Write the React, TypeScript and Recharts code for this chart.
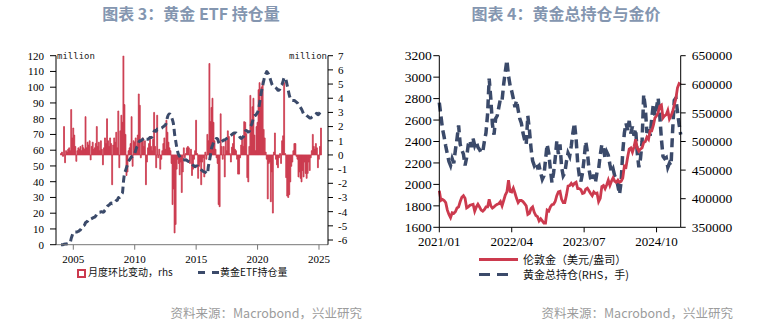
import React from "react";
import { ComposedChart, LineChart, Bar, Line, XAxis, YAxis } from "recharts";

// 图表3: monthly, index 0 = 2004/01
const etfChange = [
  0.1, 0.2, -0.1, 2.0, -0.55, 0.3, 0.2, 0.4, 0.5, 0.3, 3.2, 1.2,
  1.9, 1.4, 0.6, -0.45, 0.3, 0.5, 0.4, 0.6, 0.3, 0.7, 0.5, 0.4,
  2.7, 0.5, 0.9, 0.7, 1.0, -0.35, 0.6, 0.9, 0.4, 0.5, 0.8, 2.0,
  0.6, 0.9, 0.3, 1.0, 0.4, -0.7, 0.5, 1.2, 0.8, 2.55, 1.0, 0.6,
  1.2, 0.8, -2.1, 0.7, 1.2, 0.9, 1.6, 0.5, 3.1, -0.9, 1.7, 2.8,
  2.3, 7.0, 3.55, 1.45, -1.45, -1.2, 0.3, 0.5, 0.8, 2.7, -0.8, 1.0,
  0.9, 1.2, 0.6, 1.4, 4.3, 3.5, -0.2, 0.9, 1.2, 0.6, 1.0, -2.1,
  -0.5, 0.5, 0.8, 1.3, 0.6, 0.3, 1.1, 3.0, 0.6, -0.9, 2.8, -0.2,
  0.4, -1.0, -0.3, 0.3, 0.8, 1.2, 0.4, 2.45, 1.6, 0.9, 0.5, 0.3,
  -0.6, -3.5, -2.4, -5.5, -4.9, -1.0, -0.3, -0.6, -1.4, -0.5, -2.65, -1.2,
  0.5, -0.2, 0.1, 0.5, 0.6, 0.5, -0.6, 0.4, -1.45, -1.0, -0.3, 0.3,
  2.45, 0.1, -1.65, -0.8, -0.5, -2.1, -0.5, -0.2, -1.55, 0.2, -0.3, 1.45,
  1.0, 6.45, 2.35, 3.35, 4.0, 2.3, 1.0, 0.4, -0.2, -0.6, -3.5, -3.65,
  2.9, 0.6, -0.3, 0.6, -1.55, 1.0, 0.3, 1.7, 1.3, 0.1, -0.5, 0.55,
  0.8, 1.5, 0.4, 0.3, -0.3, -1.35, -1.35, -0.2, 0.7, 1.1, 0.6, 2.35,
  2.3, 1.5, -1.6, -1.9, 0.6, 4.2, 2.3, 3.4, 4.0, 1.4, 0.3, 2.0,
  2.3, 4.6, 5.1, 3.6, 4.8, 5.2, 1.8, 1.2, 0.2, -0.3, -3.1, -0.6,
  -0.5, -3.3, -1.2, -4.1, 0.2, 1.55, -0.3, -0.7, -0.9, -0.2, 0.1, -0.6,
  1.0, 1.35, 5.1, 0.1, -1.6, -2.9, -3.0, -2.8, -1.9, -0.8, -0.5, 0.3,
  0.8, 0.8, -0.1, -0.3, -1.55, -1.2, -1.65, -1.9, -1.1, -1.55, -0.5, -1.3,
  -1.65, -1.3, -0.5, -1.1, -0.2, 0.3, 1.45, 0.6, 0.4, 0.8, 0.5, -0.9,
  -0.3, 0.6, 1.9,
];

const etfHolding = [
  0, 0, 0, 0.3, 0.5, 0.5, 0.6, 0.8, 1, 1.5, 4, 6,
  7.5, 8, 8, 8, 8.2, 8.5, 9, 9.5, 10.5, 11.5, 12, 12.5,
  14, 14.5, 15, 16, 16.5, 16.3, 16.6, 17, 17.3, 17.6, 18.3, 19.5,
  20, 20.5, 20.6, 21, 21, 20.6, 21, 22, 22.6, 24, 24.8, 25.2,
  26, 26.5, 26, 26.3, 27, 27.3, 28, 28.2, 30, 30, 30.5, 32,
  33, 40, 45, 47, 49, 51, 53, 54, 55, 56, 56, 57,
  58, 60, 62, 63, 65, 66, 66, 66.5, 67, 67.5, 68, 67,
  67, 67, 67.5, 68, 68, 68.5, 70, 72, 72.5, 72, 73.5, 73.5,
  74, 74, 74, 74.5, 75, 75.5, 76, 78, 81, 82.5, 83, 82.5,
  81, 79, 76, 70, 66, 62, 59, 57, 56, 55, 54.5, 54,
  54, 53.8, 54, 53.5, 53, 52.8, 52.5, 52, 51, 50.5, 50, 49.5,
  50, 50, 49.5, 48.5, 48, 47.5, 47, 46.5, 46.2, 46, 45.5, 45,
  50, 53, 57, 61, 63, 65, 66, 67, 67.5, 67, 65, 64,
  65, 65.5, 66, 66.5, 66.5, 67, 67.5, 68, 68.5, 69, 69.5, 70,
  70.5, 71, 71, 71, 70.5, 70, 69, 68, 67.5, 68, 68.5, 70,
  72, 72.5, 72, 71.5, 72, 75, 76, 78, 81, 82, 82, 83,
  84, 86, 90, 94, 98, 101, 104, 107, 108.5, 110, 109, 108,
  106, 104, 102, 101, 100.5, 100, 99.5, 99, 98, 98, 99, 101,
  102, 104, 106, 106, 104, 101, 98, 95, 93, 92, 91.5, 91.5,
  91.5, 91, 90.5, 90, 89, 88, 87, 86, 84.5, 83, 82.5, 82.5,
  82, 81.5, 81, 80.5, 80.5, 81, 81.5, 82, 82.5, 83, 83.5, 82.5,
  83, 84, 85,
];

const etfYearTicks = [2005, 2010, 2015, 2020, 2025];
const leftTicks3 = [0, 10, 20, 30, 40, 50, 60, 70, 80, 90, 100, 110, 120];
const rightTicks3 = [-6, -5, -4, -3, -2, -1, 0, 1, 2, 3, 4, 5, 6, 7];

// 图表4: three readings per month from 2021/01
const goldPrice = [
  1940, 1850, 1860, 1850, 1830, 1760, 1720, 1690, 1735, 1730, 1745, 1780,
  1790, 1840, 1880, 1895, 1870, 1780, 1790, 1805, 1810, 1815, 1750, 1790,
  1815, 1790, 1760, 1750, 1765, 1790, 1790, 1860, 1800, 1780, 1790, 1805,
  1815, 1820, 1840, 1800, 1850, 1900, 1930, 2040, 1935, 1930, 1965, 1920,
  1870, 1830, 1850, 1850, 1840, 1820, 1800, 1720, 1730, 1775, 1790, 1740,
  1710, 1700, 1660, 1680, 1660, 1640, 1640, 1760, 1750, 1790, 1810, 1815,
  1840, 1895, 1930, 1935, 1860, 1830, 1830, 1900, 1985, 1990, 2010, 1990,
  2010, 2020, 1960, 1960, 1950, 1915, 1920, 1955, 1965, 1940, 1915, 1895,
  1930, 1915, 1920, 1840, 1870, 1980, 1990, 1960, 1995, 2040, 1990, 2030,
  2060, 2030, 2020, 2040, 2020, 2030, 2060, 2170, 2160, 2250, 2330, 2340,
  2300, 2350, 2420, 2340, 2310, 2330, 2340, 2390, 2400, 2440, 2420, 2500,
  2500, 2550, 2620, 2640, 2670, 2730, 2740, 2620, 2640, 2650, 2690, 2610,
  2640, 2680, 2740, 2800, 2900, 2940, 2930,
];

const goldHoldings = [
  568000, 545000, 522000, 508000, 492000, 478000, 465000, 458000, 470000, 462000, 485000, 505000,
  528000, 495000, 485000, 478000, 458000, 472000, 495000, 502000, 490000, 505000, 493000, 500000,
  490000, 486000, 480000, 482000, 500000, 515000, 548000, 610000, 575000, 530000, 512000, 540000,
  545000, 560000, 575000, 572000, 600000, 622000, 642000, 615000, 598000, 588000, 575000, 560000,
  572000, 555000, 540000, 532000, 515000, 503000, 495000, 545000, 520000, 488000, 466000, 458000,
  463000, 455000, 458000, 445000, 434000, 440000, 468000, 495000, 480000, 452000, 428000, 445000,
  470000, 500000, 478000, 495000, 455000, 440000, 445000, 465000, 480000, 474000, 492000, 515000,
  532000, 505000, 462000, 440000, 430000, 445000, 470000, 500000, 482000, 452000, 436000, 430000,
  442000, 428000, 446000, 452000, 476000, 495000, 490000, 470000, 482000, 476000, 460000, 446000,
  452000, 440000, 435000, 422000, 408000, 430000, 482000, 515000, 532000, 520000, 536000, 514000,
  526000, 510000, 522000, 480000, 455000, 470000, 500000, 582000, 560000, 515000, 525000, 510000,
  540000, 566000, 545000, 560000, 576000, 545000, 505000, 474000, 470000, 472000, 455000, 462000,
  458000, 520000, 572000, 576000, 552000, 530000, 512000,
];

const monthTicks = [0, 15, 30, 45];
const monthLabels = ["2021/01", "2022/04", "2023/07", "2024/10"];
const priceTicks = [1600, 1800, 2000, 2200, 2400, 2600, 2800, 3000, 3200];
const holdingTicks = [350000, 400000, 450000, 500000, 550000, 600000, 650000];

const RED = "#cc3a4e";
const NAVY = "#3b4a6a";
const SERIF = "'Liberation Serif', 'Times New Roman', serif";
const CJK = "'Noto Sans CJK SC', sans-serif";

const etfData = etfChange.map((c, i) => ({ idx: i, chg: c, hold: etfHolding[i] }));
const priceData = goldPrice.map((p, i) => ({ t: i / 3, price: p, holdings: goldHoldings[i] }));

const abs = (left: number, top: number, extra: React.CSSProperties = {}): React.CSSProperties => ({
  position: "absolute",
  left,
  top,
  whiteSpace: "nowrap",
  ...extra,
});

function Titles() {
  const t: React.CSSProperties = { fontFamily: CJK, fontWeight: 700, fontSize: 16, color: "#8496b0", lineHeight: "20px" };
  const s: React.CSSProperties = { fontFamily: CJK, fontSize: 12.5, color: "#9c9c9c", lineHeight: "16px", textAlign: "right" };
  return (
    <>
      <div style={abs(0, 3, { ...t, width: 382, textAlign: "center" })}>图表 3：黄金 ETF 持仓量</div>
      <div style={abs(390, 3, { ...t, width: 352, textAlign: "center" })}>图表 4：黄金总持仓与金价</div>
      <div style={abs(0, 305, { ...s, width: 362 })}>资料来源：Macrobond，兴业研究</div>
      <div style={abs(390, 305, { ...s, width: 343 })}>资料来源：Macrobond，兴业研究</div>
    </>
  );
}

function EtfChart() {
  const tick = { fontSize: 11, fill: "#000", fontFamily: SERIF };
  const mono: React.CSSProperties = { fontFamily: "'DejaVu Sans Mono', monospace", fontSize: 9, color: "#222", lineHeight: "12px" };
  const leg: React.CSSProperties = { fontFamily: CJK, fontSize: 10, color: "#111", lineHeight: "14px" };
  return (
    <>
      <div style={abs(0, 40)}>
        <ComposedChart width={390} height={240} data={etfData} margin={{ top: 15.7, right: 0, bottom: 20, left: 0 }}>
          <XAxis
            dataKey="idx"
            type="number"
            domain={[-4.9, 260.8]}
            allowDataOverflow
            ticks={etfYearTicks.map((y) => (y - 2004) * 12)}
            tickFormatter={(v: number) => String(2004 + Math.round(v / 12))}
            height={15.3}
            tick={tick}
            tickSize={5}
            tickMargin={5.5}
            stroke="#777"
          />
          <YAxis yAxisId="l" orientation="left" width={56} domain={[0, 120]} ticks={leftTicks3} interval={0}
            tick={tick} tickSize={6} tickMargin={6} stroke="#000" />
          <YAxis yAxisId="r" orientation="right" width={62} domain={[-6.33, 7]} ticks={rightTicks3} interval={0}
            allowDataOverflow tick={{ ...tick, textAnchor: "start" }} tickSize={5} tickMargin={5} stroke="#000" />
          <Bar yAxisId="r" dataKey="chg" barSize={1.9} fill={RED} stroke={RED} strokeWidth={0.8}
            isAnimationActive={false} />
          <Line yAxisId="l" dataKey="hold" type="monotone" stroke={NAVY} strokeWidth={3}
            strokeDasharray="7 4" dot={false} isAnimationActive={false} />
        </ComposedChart>
      </div>
      <div style={abs(57, 50, mono)}>million</div>
      <div style={abs(288, 50, { ...mono, width: 39, textAlign: "right" })}>million</div>
      <div style={abs(77, 269, { width: 5, height: 5, border: `2px solid ${RED}`, background: "#fff" })} />
      <div style={abs(88, 265, leg)}>月度环比变动，rhs</div>
      <div style={abs(198, 271, { width: 7, height: 2.5, background: NAVY })} />
      <div style={abs(211.5, 271, { width: 7, height: 2.5, background: NAVY })} />
      <div style={abs(220, 265, leg)}>黄金ETF持仓量</div>
    </>
  );
}

function PriceChart() {
  const tick = { fontSize: 13.5, fill: "#000", fontFamily: SERIF };
  const leg: React.CSSProperties = { fontFamily: CJK, fontSize: 11, color: "#111", lineHeight: "14px" };
  return (
    <>
      <div style={abs(390, 40)}>
        <LineChart width={385} height={220} data={priceData} margin={{ top: 15.7, right: 0, bottom: 20, left: 0 }}>
          <XAxis
            dataKey="t"
            type="number"
            domain={[0, 50]}
            ticks={monthTicks}
            tickFormatter={(v: number) => monthLabels[monthTicks.indexOf(v)] ?? ""}
            height={12.7}
            tick={{ ...tick, fontSize: 13 }}
            tickSize={5}
            tickMargin={4.7}
            stroke="#000"
          />
          <YAxis yAxisId="l" orientation="left" width={49.3} domain={[1600, 3200]} ticks={priceTicks} interval={0}
            tick={tick} tickSize={6} tickMargin={1.5} stroke="#000" />
          <YAxis yAxisId="r" orientation="right" width={94.3} domain={[350000, 650000]} ticks={holdingTicks} interval={0}
            tick={tick} tickSize={5} tickMargin={6} stroke="#000" />
          <Line yAxisId="r" dataKey="holdings" type="linear" stroke={NAVY} strokeWidth={3.5}
            strokeDasharray="9 5" dot={false} isAnimationActive={false} />
          <Line yAxisId="l" dataKey="price" type="linear" stroke={RED} strokeWidth={2.8}
            dot={false} isAnimationActive={false} />
        </LineChart>
      </div>
      <div style={abs(479, 258, { width: 39, height: 3, background: RED })} />
      <div style={abs(523, 252, leg)}>伦敦金（美元/盎司）</div>
      <div style={abs(479, 273, { width: 11, height: 3, background: NAVY })} />
      <div style={abs(497, 273, { width: 11, height: 3, background: NAVY })} />
      <div style={abs(523, 267, leg)}>黄金总持仓(RHS，手)</div>
    </>
  );
}

export default function App() {
  return (
    <div style={abs(0, 0, { width: 775, height: 327, background: "#fff", overflow: "hidden" })}>
      <Titles />
      <EtfChart />
      <PriceChart />
    </div>
  );
}
